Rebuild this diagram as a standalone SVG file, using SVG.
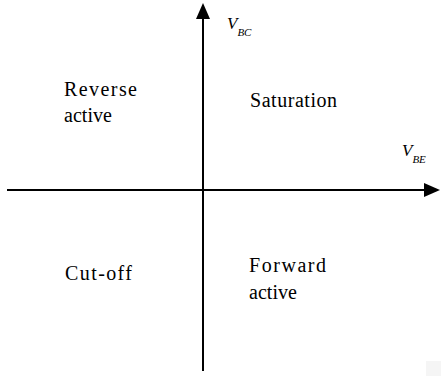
<svg xmlns="http://www.w3.org/2000/svg" width="441" height="376" viewBox="0 0 441 376">
<style>
.ax{stroke:#000;stroke-width:2;fill:none}
.t{font-family:'Liberation Serif','DejaVu Serif',serif;font-size:20px;fill:#000}
.v{font-family:'Liberation Serif','DejaVu Serif',serif;font-style:italic;fill:#000}
</style>
<rect width="441" height="376" fill="#fff"/>
<g id="connectors">
<line class="ax" x1="203" y1="371" x2="203" y2="18"/>
<path d="M203,3 L196,19 L210,19 Z" fill="#000"/>
<line class="ax" x1="7" y1="190" x2="425" y2="190"/>
<path d="M440,190 L424,183 L424,197 Z" fill="#000"/>
</g>
<g id="vbc"><text class="v" x="227" y="29" font-size="17">V<tspan font-size="11" dy="7">BC</tspan></text></g>
<g id="vbe"><text class="v" x="402" y="156" font-size="17">V<tspan font-size="11" dy="7">BE</tspan></text></g>
<g id="reverse"><text class="t" x="64" y="96" textLength="73" lengthAdjust="spacing">Reverse</text><text class="t" x="64" y="122" textLength="48" lengthAdjust="spacing">active</text></g>
<g id="saturation"><text class="t" x="250" y="107" textLength="87" lengthAdjust="spacing">Saturation</text></g>
<g id="cutoff"><text class="t" x="65" y="280" textLength="67" lengthAdjust="spacing">Cut-off</text></g>
<g id="forward"><text class="t" x="249" y="272" textLength="77" lengthAdjust="spacing">Forward</text><text class="t" x="249" y="299" textLength="48" lengthAdjust="spacing">active</text></g>
<rect x="426" y="361" width="15" height="15" fill="#f5f5f5"/>
</svg>
